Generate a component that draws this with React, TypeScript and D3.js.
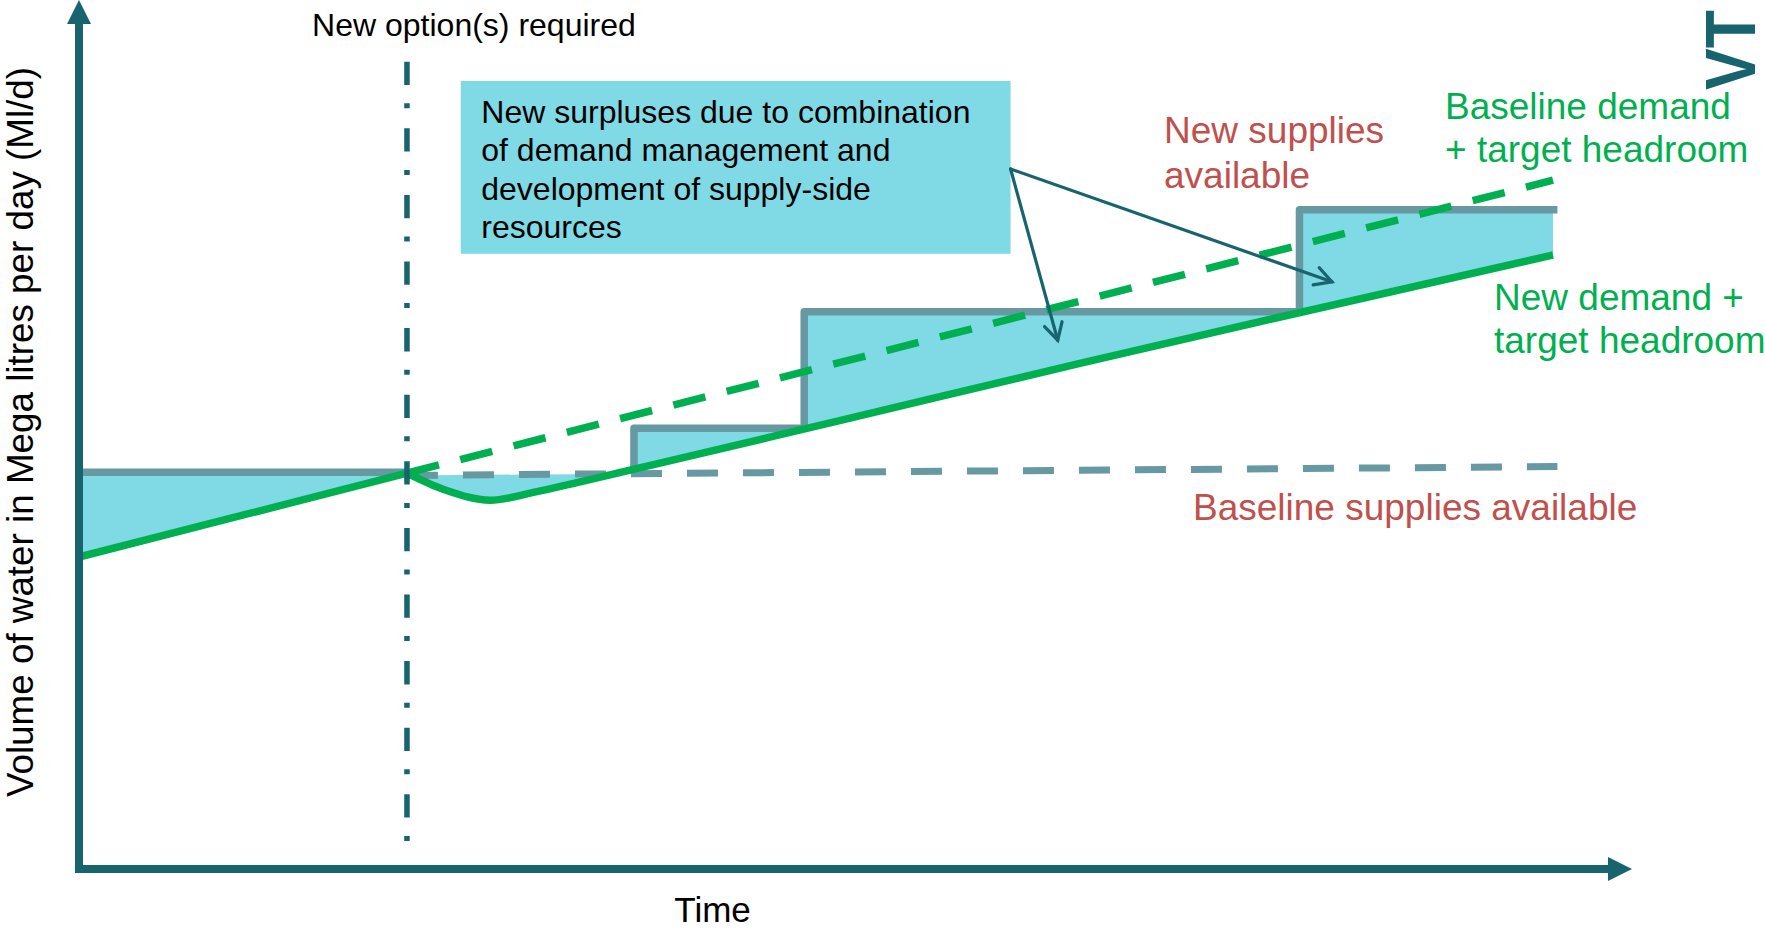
import React from 'react';
import * as d3 from 'd3';

const W = 1765;
const H = 930;

// Time runs 0..100 along the horizontal axis, volume 0..100 up the vertical axis.
const optionTime = 22.25;

// Baseline demand + target headroom (solid before the option point, dashed after)
const baselineDemand = [
  { t: 0, v: 39.0 },
  { t: 100, v: 86.1 },
];

// New demand + target headroom after demand management starts
const newDemand = [
  { t: 22.25, v: 49.48 },
  { t: 24.8, v: 47.4 },
  { t: 27.9, v: 46.1 },
  { t: 30.9, v: 47.1 },
  { t: 34.0, v: 48.4 },
  { t: 51.6, v: 56.05 },
  { t: 67.9, v: 63.2 },
  { t: 81.5, v: 69.0 },
  { t: 100, v: 76.75 },
];

// Baseline supplies available
const baselineSupply = [
  { t: 0, v: 49.6 },
  { t: 22.25, v: 49.6 },
];
const baselineSupplyFuture = [
  { t: 22.25, v: 49.2 },
  { t: 100.3, v: 50.3 },
];

// New supplies available: each scheme comes online at time t and lifts supply to v
const supplySteps = [
  { t: 37.65, v: 55.1 },
  { t: 49.2, v: 69.65 },
  { t: 82.8, v: 82.4 },
];
const supplyEnd = 100.3;
const fillEnd = 100;

// Callout box and its arrows (data units)
const calloutBox = { t0: 25.9, t1: 63.2, v0: 76.9, v1: 98.5 };
const calloutLines = [
  'New surpluses due to combination',
  'of demand management and',
  'development of supply-side',
  'resources',
];
const calloutArrowStart = { t: 63.2, v: 87.5 };
const calloutArrowTips = [
  { t: 85.0, v: 73.4 },
  { t: 66.4, v: 66.1 },
];

const COLORS = {
  fill: '#80DAE5',
  supply: '#6699A1',
  demand: '#00B050',
  axis: '#17646F',
  red: '#C0504D',
  text: '#000000',
};

const FONT = '"Liberation Sans", Arial, Helvetica, sans-serif';

type P = { t: number; v: number };

export default function App() {
  const x = d3.scaleLinear().domain([0, 100]).range([79, 1553]);
  const y = d3.scaleLinear().domain([0, 100]).range([869, 69]);

  const baseFutureAt = (t: number) => {
    const [a, b] = baselineSupplyFuture;
    return a.v + ((b.v - a.v) * (t - a.t)) / (b.t - a.t);
  };

  const line = d3
    .line<P>()
    .x((d) => x(d.t))
    .y((d) => y(d.v));
  const curved = d3
    .line<P>()
    .x((d) => x(d.t))
    .y((d) => y(d.v))
    .curve(d3.curveMonotoneX);

  // Step outline of new supplies
  const stepPts: P[] = [{ t: supplySteps[0].t, v: baseFutureAt(supplySteps[0].t) }];
  supplySteps.forEach((s, i) => {
    stepPts.push({ t: s.t, v: stepPts[stepPts.length - 1].v });
    stepPts.push({ t: s.t, v: s.v });
    const next = i + 1 < supplySteps.length ? supplySteps[i + 1].t : supplyEnd;
    stepPts.push({ t: next, v: s.v });
  });

  // Total supply outline used for the surplus fill
  const supplyOutline: P[] = [
    ...baselineSupply,
    { t: optionTime, v: baseFutureAt(optionTime) },
    ...stepPts.map((p) => ({ t: Math.min(p.t, fillEnd), v: p.v })),
  ];
  const supplyArea = d3
    .area<P>()
    .x((d) => x(d.t))
    .y0(y(0))
    .y1((d) => y(d.v));

  // Region above demand (clip for the surplus fill)
  const demandAt0 = baselineDemand[0].v;
  const demandAtOpt =
    baselineDemand[0].v +
    ((baselineDemand[1].v - baselineDemand[0].v) * (optionTime - baselineDemand[0].t)) /
      (baselineDemand[1].t - baselineDemand[0].t);
  const leftAbove = d3
    .area<P>()
    .x((d) => x(d.t))
    .y0((d) => y(d.v))
    .y1(y(110));
  const rightAbove = d3
    .area<P>()
    .x((d) => x(d.t))
    .y0((d) => y(d.v))
    .y1(y(110))
    .curve(d3.curveMonotoneX);

  const baselineDemandSolid: P[] = [
    { t: 0, v: demandAt0 },
    { t: optionTime, v: demandAtOpt },
  ];
  const baselineDemandDashed: P[] = [
    { t: optionTime, v: demandAtOpt },
    baselineDemand[1],
  ];

  const optX = x(optionTime);
  const axisX = x(0);
  const axisY = y(0);

  const arrowHead = (from: P, to: P, len = 19, ang = 0.5) => {
    const x1 = x(from.t),
      y1 = y(from.v),
      x2 = x(to.t),
      y2 = y(to.v);
    const a = Math.atan2(y2 - y1, x2 - x1);
    const p1 = [x2 - len * Math.cos(a - ang), y2 - len * Math.sin(a - ang)];
    const p2 = [x2 - len * Math.cos(a + ang), y2 - len * Math.sin(a + ang)];
    return `M${p1[0]},${p1[1]}L${x2},${y2}L${p2[0]},${p2[1]}`;
  };

  return (
    <svg
      width={W}
      height={H}
      viewBox={`0 0 ${W} ${H}`}
      style={{ position: 'absolute', left: 0, top: 0, background: '#fff' }}
      fontFamily={FONT}
    >
      <defs>
        <clipPath id="above-demand">
          <path d={leftAbove(baselineDemandSolid) || ''} />
          <path d={rightAbove(newDemand) || ''} />
        </clipPath>
      </defs>

      {/* Surplus: supply above demand */}
      <path d={supplyArea(supplyOutline) || ''} fill={COLORS.fill} clipPath="url(#above-demand)" />

      {/* Baseline supplies */}
      <path d={line(baselineSupply) || ''} fill="none" stroke={COLORS.supply} strokeWidth={7.5} />
      <path
        d={line(baselineSupplyFuture) || ''}
        fill="none"
        stroke={COLORS.supply}
        strokeWidth={7}
        strokeDasharray="31 25"
      />

      {/* New supplies (steps) */}
      <path
        d={line(stepPts) || ''}
        fill="none"
        stroke={COLORS.supply}
        strokeWidth={7.5}
        strokeLinejoin="round"
      />

      {/* Demand lines */}
      <path
        d={line(baselineDemandDashed) || ''}
        fill="none"
        stroke={COLORS.demand}
        strokeWidth={7.5}
        strokeDasharray="33 22"
      />
      <path d={line(baselineDemandSolid) || ''} fill="none" stroke={COLORS.demand} strokeWidth={7.5} />
      <path d={curved(newDemand) || ''} fill="none" stroke={COLORS.demand} strokeWidth={7.5} />

      {/* Option point marker */}
      <line
        x1={optX}
        x2={optX}
        y1={61.7}
        y2={845}
        stroke={COLORS.axis}
        strokeWidth={5.5}
        strokeDasharray="23.3 18.3 5 20"
      />
      <text x={optX + 67} y={36} fontSize={32} textAnchor="middle" fill={COLORS.text}>
        New option(s) required
      </text>

      {/* Callout */}
      <rect
        x={x(calloutBox.t0)}
        y={y(calloutBox.v1)}
        width={x(calloutBox.t1) - x(calloutBox.t0)}
        height={y(calloutBox.v0) - y(calloutBox.v1)}
        fill={COLORS.fill}
      />
      {calloutLines.map((s, i) => (
        <text key={s} x={x(calloutBox.t0) + 20.5} y={123} fontSize={32} fill={COLORS.text} dy={i * 38.3}>
          {s}
        </text>
      ))}
      {calloutArrowTips.map((tip, i) => (
        <g key={i} stroke={COLORS.axis} strokeWidth={3.2} fill="none" strokeLinecap="round">
          <line
            x1={x(calloutArrowStart.t)}
            y1={y(calloutArrowStart.v)}
            x2={x(tip.t)}
            y2={y(tip.v)}
          />
          <path d={arrowHead(calloutArrowStart, tip)} strokeLinejoin="miter" />
        </g>
      ))}

      {/* Axes */}
      <line x1={axisX - 4} x2={1612} y1={axisY} y2={axisY} stroke={COLORS.axis} strokeWidth={8} />
      <path d={`M1608,${axisY - 12}L1632,${axisY}L1608,${axisY + 12}Z`} fill={COLORS.axis} />
      <line x1={axisX} x2={axisX} y1={axisY + 4} y2={20} stroke={COLORS.axis} strokeWidth={8} />
      <path d={`M${axisX - 12},24L${axisX},0L${axisX + 12},24Z`} fill={COLORS.axis} />

      <text x={712.6} y={922} fontSize={35} textAnchor="middle" fill={COLORS.text}>
        Time
      </text>
      <text
        transform="translate(33,432) rotate(-90)"
        fontSize={36.8}
        textAnchor="middle"
        fill={COLORS.text}
      >
        Volume of water in Mega litres per day (Ml/d)
      </text>

      {/* Series labels */}
      <g fontSize={37} fill={COLORS.red}>
        <text x={1164} y={142.5}>New supplies</text>
        <text x={1164} y={187.5}>available</text>
        <text x={1193} y={520}>Baseline supplies available</text>
      </g>
      <g fontSize={37} fill={COLORS.demand}>
        <text x={1445} y={119}>Baseline demand</text>
        <text x={1445} y={162}>+ target headroom</text>
        <text x={1494} y={310}>New demand +</text>
        <text x={1494} y={353}>target headroom</text>
      </g>

      {/* Logo mark */}
      <text
        transform="translate(1755,90) rotate(-90)"
        fontSize={70}
        fontWeight="bold"
        fill={COLORS.axis}
        textLength={80}
        lengthAdjust="spacingAndGlyphs"
      >
        VT
      </text>
    </svg>
  );
}
